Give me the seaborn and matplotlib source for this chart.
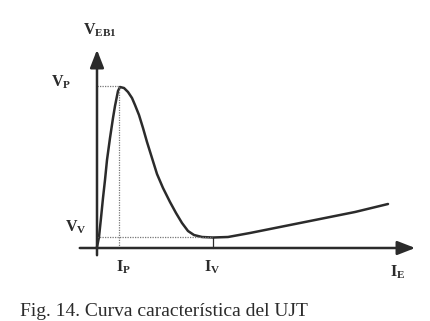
import matplotlib
matplotlib.use("Agg")
import matplotlib.pyplot as plt
import seaborn as sns
import pandas as pd

# Characteristic curve of the UJT (arbitrary units)
I_E = [0.0, 0.2, 0.4, 0.6, 0.8, 1.0, 1.3, 1.6, 1.8, 2.0, 2.1, 2.3,
       2.7, 3.1, 3.5, 3.8, 4.2, 4.6, 5.0, 5.5, 6.0, 6.6, 7.3, 7.9, 8.5, 9.1, 9.7,
       10.5, 11.6, 13.1, 15.3, 18.3, 21.8, 25.8, 29.1]
V_EB1 = [0.1, 1.1, 3.0, 5.0, 6.8, 8.8, 11.0, 13.0, 14.2, 15.2, 15.7, 16.1,
         16.0, 15.6, 15.0, 14.3, 13.3, 12.0, 10.6, 9.0, 7.4, 6.0, 4.6, 3.5, 2.5, 1.7, 1.3,
         1.1, 1.05, 1.1, 1.5, 2.1, 2.8, 3.6, 4.4]
Vp, Ip = 16.2, 2.2
Vv, Iv = 1.1, 11.6
labels = {"VEB1": r"$\mathrm{V_{EB1}}$", "Vp": r"$\mathrm{V_P}$", "Vv": r"$\mathrm{V_V}$",
          "Ip": r"$\mathrm{I_P}$", "Iv": r"$\mathrm{I_V}$", "IE": r"$\mathrm{I_E}$"}
caption = "Fig. 14. Curva característica del UJT"

sns.set_theme(style="white")
plt.rcParams["font.family"] = ["Liberation Serif", "DejaVu Serif"]
plt.rcParams["mathtext.fontset"] = "custom"
plt.rcParams["mathtext.rm"] = "Liberation Serif:bold"
plt.rcParams["mathtext.it"] = "Liberation Serif:bold"

ink = "#2b2b2b"
fig = plt.figure(figsize=(4.3, 3.21), dpi=100)
ax = fig.add_axes([0, 0, 1, 1])
ax.set_xlim(-9.7, 33.3)
ax.set_ylim(-7.3, 24.8)
ax.axis("off")

df = pd.DataFrame({"I": I_E, "V": V_EB1})
sns.lineplot(data=df, x="I", y="V", ax=ax, color=ink, lw=1.8, sort=False,
             solid_joinstyle="round", solid_capstyle="round")

# axes with arrows
ax.annotate("", xy=(0, 20.1), xytext=(0, -1.0),
            arrowprops=dict(arrowstyle="-|>,head_length=0.9,head_width=0.35", color=ink, lw=1.8))
ax.annotate("", xy=(32.1, 0), xytext=(-2.0, 0),
            arrowprops=dict(arrowstyle="-|>,head_length=0.9,head_width=0.35", color=ink, lw=1.8))

# dotted guides
dot = dict(color="#777777", lw=0.9, ls=(0, (1, 1)))
ax.plot([0, Ip], [Vp, Vp], **dot)
ax.plot([Ip, Ip], [0, Vp], **dot)
ax.plot([0, Iv], [Vv, Vv], **dot)
ax.plot([Iv, Iv], [0, Vv], color=ink, lw=0.9)

fs = 11.5
ax.text(0.3, 21.8, labels["VEB1"], ha="center", va="center", fontsize=fs, color=ink)
ax.text(-3.6, 16.6, labels["Vp"], ha="center", va="center", fontsize=fs, color=ink)
ax.text(-2.1, 2.1, labels["Vv"], ha="center", va="center", fontsize=fs, color=ink)
ax.text(2.6, -1.9, labels["Ip"], ha="center", va="center", fontsize=fs, color=ink)
ax.text(11.5, -1.9, labels["Iv"], ha="center", va="center", fontsize=fs, color=ink)
ax.text(30.1, -2.4, labels["IE"], ha="center", va="center", fontsize=fs, color=ink)

fig.text(20 / 430, 1 - 316 / 321, caption, ha="left", va="baseline", fontsize=14, color=ink)

fig.savefig("out.png", dpi=100, facecolor="white")
